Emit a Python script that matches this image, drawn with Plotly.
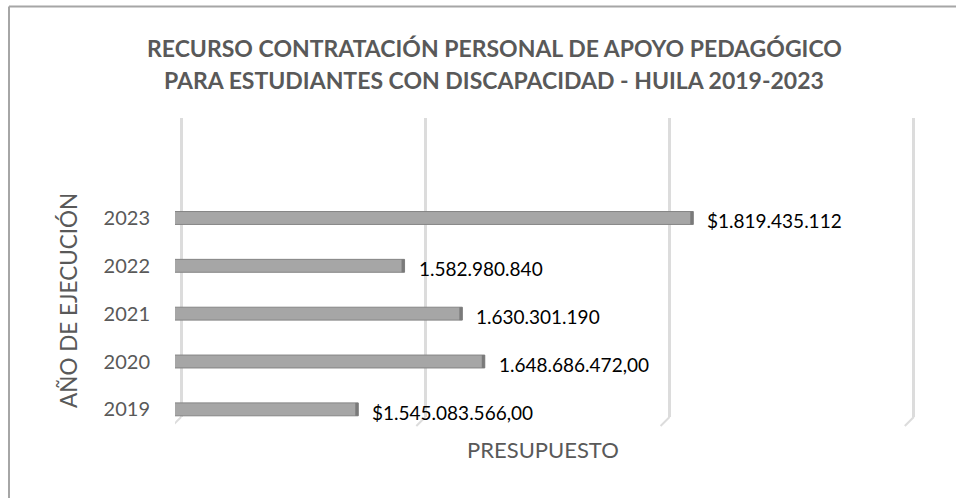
import plotly.graph_objects as go

# ---- data ----
years = ["2019", "2020", "2021", "2022", "2023"]
budget = [1545083566, 1648686472, 1630301190, 1582980840, 1819435112]
value_labels = ["$1.545.083.566,00", "1.648.686.472,00", "1.630.301.190",
                "1.582.980.840", "$1.819.435.112"]
grid_values = [1400e6, 1600e6, 1800e6, 2000e6]
title_lines = ["RECURSO CONTRATACIÓN PERSONAL DE APOYO PEDAGÓGICO",
               "PARA ESTUDIANTES CON DISCAPACIDAD - HUILA 2019-2023"]
x_title = "PRESUPUESTO"
y_title = "AÑO DE EJECUCIÓN"

# ---- layout geometry ----
W, H = 956, 498
L, R, T, B = 175, 30, 118, 81
PW, PH = W - L - R, H - T - B
X_RANGE = [1395e6, 2010e6]
px_per_unit = PW / (X_RANGE[1] - X_RANGE[0])


def pxx(px):
    return (px - L) / PW


def pxy(py):
    return (H - B - py) / PH


FONT = "Lato"
GREY_TXT = "#595959"

fig = go.Figure()

# main bars
fig.add_trace(go.Bar(
    y=years, x=budget, orientation="h", width=0.27,
    marker=dict(color="#a6a6a6", line=dict(color="#858585", width=1)),
    hoverinfo="x+y", showlegend=False,
))
# darker end cap (pseudo 3D)
cap = 3 / px_per_unit
fig.add_trace(go.Bar(
    y=years, x=[cap] * len(budget), base=[v - cap for v in budget],
    orientation="h", width=0.27,
    marker=dict(color="#7a7a7a", line=dict(width=0)),
    hoverinfo="skip", showlegend=False,
))

annotations = []
for i, (v, t) in enumerate(zip(budget, value_labels)):
    annotations.append(dict(
        x=v, y=i, xref="x", yref="y", text=t, showarrow=False,
        xanchor="left", yanchor="middle", xshift=12, yshift=-3,
        font=dict(family=FONT, size=19, color="#000000"),
    ))

# title lines
for line, cy in zip(title_lines, [48, 80]):
    annotations.append(dict(
        x=pxx(494), y=pxy(cy), xref="paper", yref="paper", text="<b>%s</b>" % line,
        showarrow=False, xanchor="center", yanchor="middle",
        font=dict(family=FONT, size=23, color=GREY_TXT),
    ))

annotations.append(dict(
    x=pxx(543), y=pxy(449), xref="paper", yref="paper", text=x_title,
    showarrow=False, xanchor="center", yanchor="middle",
    font=dict(family=FONT, size=22, color=GREY_TXT),
))
annotations.append(dict(
    x=pxx(68), y=pxy(301), xref="paper", yref="paper", text=y_title,
    showarrow=False, xanchor="center", yanchor="middle", textangle=-90,
    font=dict(family=FONT, size=22.5, color=GREY_TXT),
))

shapes = []
# small perspective foot of each gridline
dx = 9 / px_per_unit
for g in grid_values:
    shapes.append(dict(type="line", xref="x", yref="paper",
                       x0=g, y0=0, x1=g - dx, y1=-9 / PH,
                       line=dict(color="#dcdcdc", width=2), layer="below"))
# outer chart border (top and left visible)
shapes.append(dict(type="line", xref="paper", yref="paper",
                   x0=pxx(9), y0=pxy(6.5), x1=pxx(W + 5), y1=pxy(6.5),
                   line=dict(color="#a6a6a6", width=2)))
shapes.append(dict(type="line", xref="paper", yref="paper",
                   x0=pxx(9), y0=pxy(6.5), x1=pxx(9), y1=pxy(H + 5),
                   line=dict(color="#a6a6a6", width=2)))

fig.update_layout(
    width=W, height=H,
    margin=dict(l=L, r=R, t=T, b=B, pad=0),
    paper_bgcolor="white", plot_bgcolor="white",
    barmode="overlay",
    annotations=annotations, shapes=shapes,
    xaxis=dict(range=X_RANGE, tickvals=grid_values, showticklabels=False,
               showgrid=True, gridcolor="#dcdcdc", gridwidth=3,
               zeroline=False, showline=False, fixedrange=True),
    yaxis=dict(type="category", categoryorder="array", categoryarray=years,
               range=[-0.16, 6.09], showgrid=False, zeroline=False,
               showline=False, ticks="", ticklabelstandoff=24,
               tickfont=dict(family=FONT, size=20, color=GREY_TXT),
               fixedrange=True),
)

fig.write_html("out.html", config={"displayModeBar": False},
               post_script="document.body.style.margin='0px';")
